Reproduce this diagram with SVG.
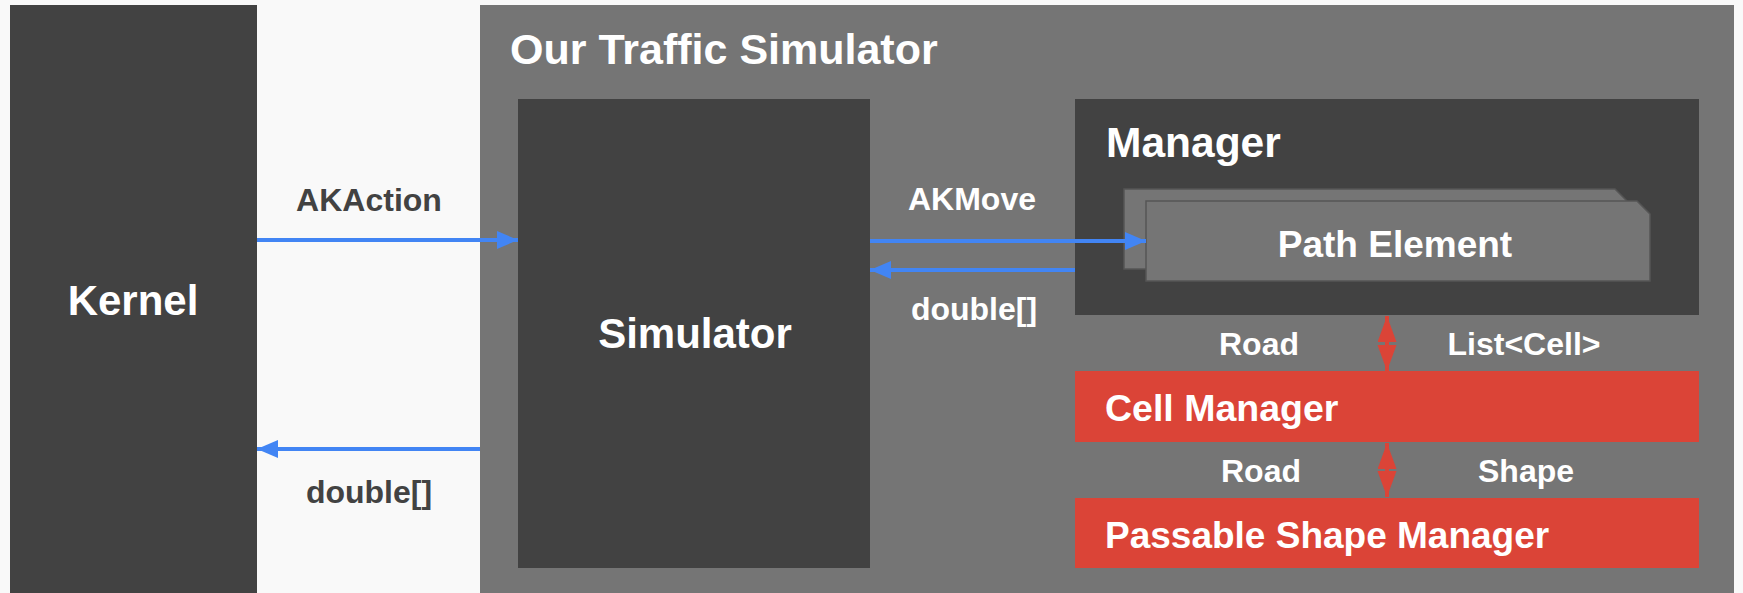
<svg xmlns="http://www.w3.org/2000/svg" width="1743" height="593" viewBox="0 0 1743 593">
<style>
text{font-family:"Liberation Sans",Arial,sans-serif;font-weight:bold}
.w{fill:#ffffff}
.d{fill:#424242}
.dark{fill:#424242}
.mid{fill:#757575}
.red{fill:#db4437}
.pe{fill:#757575;stroke:#555555;stroke-width:1.5}
.blue{stroke:#4285f4;stroke-width:4;fill:none}
.redc{stroke:#db4437;stroke-width:4;fill:none}
.lbl{font-size:32px}
</style>
<defs>
<marker id="ab" markerUnits="userSpaceOnUse" markerWidth="22" markerHeight="20" refX="21" refY="9" orient="auto">
<path d="M0,0 L21,9 L0,18 Z" fill="#4285f4"/>
</marker>
<marker id="ar" markerUnits="userSpaceOnUse" markerWidth="27" markerHeight="20" refX="26" refY="9.5" orient="auto-start-reverse">
<path d="M0,0 L26,9.5 L0,19 Z" fill="#db4437"/>
</marker>
</defs>
<rect x="0" y="0" width="1743" height="593" fill="#f9f9f9"/>
<g id="kernel">
<rect class="dark" x="10" y="5" width="247" height="588"/>
<text class="w" x="133" y="315" font-size="42" text-anchor="middle">Kernel</text>
</g>
<g id="our-traffic-simulator">
<rect class="mid" x="480" y="5" width="1254" height="588"/>
<text class="w" x="510" y="64" font-size="43">Our Traffic Simulator</text>
</g>
<g id="simulator">
<rect class="dark" x="518" y="99" width="352" height="469"/>
<text class="w" x="695" y="348" font-size="42" text-anchor="middle">Simulator</text>
</g>
<g id="manager">
<rect class="dark" x="1075" y="99" width="624" height="216"/>
<text class="w" x="1106" y="157" font-size="42.5">Manager</text>
</g>
<g id="path-element">
<path class="pe" d="M1124,189 H1615 L1628,202 V269 H1124 Z"/>
<path class="pe" d="M1146,201 H1637 L1650,214 V281 H1146 Z"/>
<text class="w" x="1395" y="257" font-size="37" text-anchor="middle">Path Element</text>
</g>
<g id="cell-manager">
<rect class="red" x="1075" y="371" width="624" height="71"/>
<text class="w" x="1105" y="421" font-size="37.5">Cell Manager</text>
</g>
<g id="passable-shape-manager">
<rect class="red" x="1075" y="498" width="624" height="70"/>
<text class="w" x="1105" y="548" font-size="37">Passable Shape Manager</text>
</g>
<g id="connectors">
<line class="blue" x1="257" y1="240" x2="518" y2="240" marker-end="url(#ab)"/>
<line class="blue" x1="480" y1="449" x2="257" y2="449" marker-end="url(#ab)"/>
<line class="blue" x1="870" y1="241" x2="1146" y2="241" marker-end="url(#ab)"/>
<line class="blue" x1="1075" y1="270" x2="870" y2="270" marker-end="url(#ab)"/>
<line class="redc" x1="1387" y1="316" x2="1387" y2="371" marker-start="url(#ar)" marker-end="url(#ar)"/>
<line class="redc" x1="1387" y1="443" x2="1387" y2="497" marker-start="url(#ar)" marker-end="url(#ar)"/>
<text class="d lbl" x="369" y="211" text-anchor="middle">AKAction</text>
<text class="d lbl" x="369" y="503" text-anchor="middle">double[]</text>
<text class="w lbl" x="972" y="210" text-anchor="middle">AKMove</text>
<text class="w lbl" x="974" y="320" text-anchor="middle">double[]</text>
<text class="w lbl" x="1259" y="355" text-anchor="middle">Road</text>
<text class="w lbl" x="1524" y="355" text-anchor="middle">List&lt;Cell&gt;</text>
<text class="w lbl" x="1261" y="482" text-anchor="middle">Road</text>
<text class="w lbl" x="1526" y="482" text-anchor="middle">Shape</text>
</g>
</svg>
